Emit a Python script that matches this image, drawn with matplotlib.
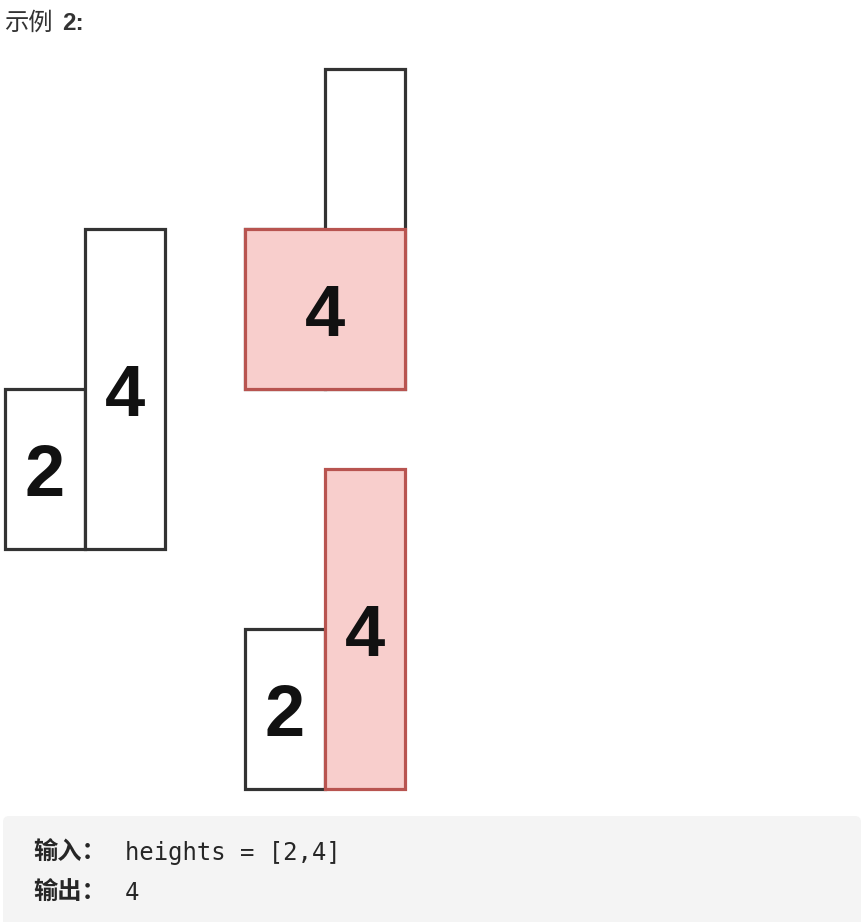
import matplotlib.pyplot as plt
from matplotlib.patches import Rectangle, FancyBboxPatch

# ---- data ----
heights = [2, 4]
cover_height = min(heights)              # big rectangle in the top-right panel
cover_area = cover_height * len(heights)  # = 4
best_bar = 1                              # bar highlighted in the bottom-right panel
answer = 4

title_cjk = "示例"
title_num = "2:"
input_label = "输入："
output_label = "输出："
input_text = "heights = [2,4]"
output_text = str(answer)

# ---- style ----
W, H = 864, 922
UNIT = 80          # px per unit
EDGE = "#333333"
PINK = "#f8cecc"
PINK_EDGE = "#b85450"
DIGIT_FONT = dict(family="Liberation Sans", weight="bold", fontsize=52,
                  color="#111111", ha="center", va="center")
cjk = ["Noto Sans CJK SC", "DejaVu Sans"]

fig = plt.figure(figsize=(W / 100, H / 100), dpi=100)

# background canvas in pixel coordinates
bg = fig.add_axes([0, 0, 1, 1])
bg.set_xlim(0, W)
bg.set_ylim(H, 0)
bg.axis("off")

bg.text(4, 23, title_cjk, family=cjk, fontsize=17.5, color="#333333",
        va="center", ha="left")
bg.text(62, 23, title_num, family="Liberation Sans", fontsize=17.5,
        weight="bold", color="#333333", va="center", ha="left")

bg.add_patch(FancyBboxPatch((3, 816), 858, 130, boxstyle="round,pad=0,rounding_size=6",
                            fc="#f4f4f4", ec="none"))
bg.text(33, 853, input_label, family=cjk, weight="bold", fontsize=17.5,
        color="#262626", va="center")
bg.text(33, 893, output_label, family=cjk, weight="bold", fontsize=17.5,
        color="#262626", va="center")
bg.text(125, 853, input_text, family="DejaVu Sans Mono", fontsize=17.2,
        color="#262626", va="center")
bg.text(125, 893, output_text, family="DejaVu Sans Mono", fontsize=17.2,
        color="#262626", va="center")


def panel(x0, y_base):
    """axes in data units: x 0..len(heights), y 0..max(heights)"""
    n, m = len(heights), max(heights)
    ax = fig.add_axes([x0 / W, (H - y_base) / H, n * UNIT / W, m * UNIT / H])
    ax.set_xlim(0, n)
    ax.set_ylim(0, m)
    ax.axis("off")
    return ax


def draw_bars(ax, colors, edges):
    xs = [i + 0.5 for i in range(len(heights))]
    bars = ax.bar(xs, heights, width=1.0, color=colors, edgecolor=edges,
                  linewidth=2.3, zorder=2)
    for b in bars:
        b.set_clip_on(False)
    return xs


LABEL_DY = -0.1   # nudge digits slightly below centre

# left: the input histogram
ax1 = panel(5, 549)
xs = draw_bars(ax1, ["white"] * len(heights), [EDGE] * len(heights))
for x, h in zip(xs, heights):
    ax1.text(x, h / 2 + LABEL_DY, str(h), **DIGIT_FONT, zorder=4)

# top right: rectangle spanning both bars at height min(heights)
ax2 = panel(245, 389)
draw_bars(ax2, ["white"] * len(heights), [EDGE] * len(heights))
ax2.add_patch(Rectangle((0, 0), len(heights), cover_height, fc=PINK, ec=PINK_EDGE,
                        lw=2.3, zorder=3, clip_on=False))
ax2.text(len(heights) / 2, cover_height / 2 + LABEL_DY, str(cover_area),
         **DIGIT_FONT, zorder=4)

# bottom right: the tallest single bar
ax3 = panel(245, 789)
cols = [PINK if i == best_bar else "white" for i in range(len(heights))]
eds = [PINK_EDGE if i == best_bar else EDGE for i in range(len(heights))]
xs = draw_bars(ax3, cols, eds)
for x, h in zip(xs, heights):
    ax3.text(x, h / 2 + LABEL_DY, str(h), **DIGIT_FONT, zorder=4)

fig.savefig("out.png", dpi=100)
